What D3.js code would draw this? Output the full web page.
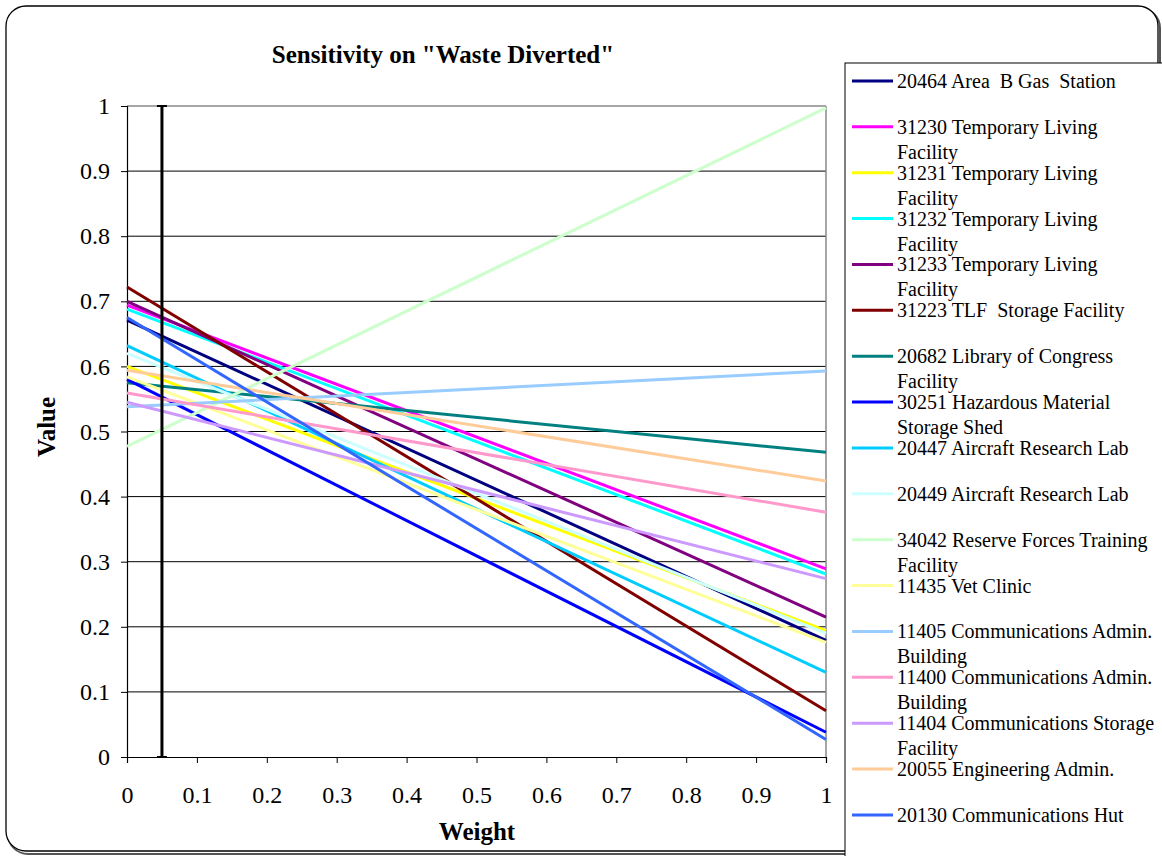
<!DOCTYPE html>
<html><head><meta charset="utf-8">
<script src="https://cdn.jsdelivr.net/npm/d3@7"></script>
<style>body{margin:0;background:#fff}svg{display:block}text{font-family:"Liberation Serif","Times New Roman",serif}</style>
</head><body>
<script>
const weights = [0, 1];
const seriesNames = [
  "20464 Area  B Gas  Station|",
  "31230 Temporary Living|Facility",
  "31231 Temporary Living|Facility",
  "31232 Temporary Living|Facility",
  "31233 Temporary Living|Facility",
  "31223 TLF  Storage Facility|",
  "20682 Library of Congress|Facility",
  "30251 Hazardous Material|Storage Shed",
  "20447 Aircraft Research Lab|",
  "20449 Aircraft Research Lab|",
  "34042 Reserve Forces Training|Facility",
  "11435 Vet Clinic|",
  "11405 Communications Admin.|Building",
  "11400 Communications Admin.|Building",
  "11404 Communications Storage|Facility",
  "20055 Engineering Admin.|",
  "20130 Communications Hut|"
];
const startValues = [0.671, 0.694, 0.600, 0.688, 0.700, 0.722, 0.575, 0.580, 0.632, 0.620, 0.477, 0.584, 0.538, 0.559, 0.545, 0.594, 0.675];
const endValues   = [0.179, 0.289, 0.194, 0.281, 0.215, 0.071, 0.468, 0.038, 0.130, 0.190, 0.997, 0.176, 0.593, 0.376, 0.274, 0.424, 0.027];
const colors = ["#000080","#FF00FF","#FFFF00","#00FFFF","#800080","#800000","#008080","#0000FF","#00CCFF","#CCFFFF","#CCFFCC","#FFFF99","#99CCFF","#FF99CC","#CC99FF","#FFCC99","#3366FF"];
const xTicks = [0,0.1,0.2,0.3,0.4,0.5,0.6,0.7,0.8,0.9,1];
const yTicks = [0,0.1,0.2,0.3,0.4,0.5,0.6,0.7,0.8,0.9,1];
const markerWeight = 0.05;
const title = 'Sensitivity on "Waste Diverted"';

const W = 1162, H = 856;
const svg = d3.select("body").append("svg").attr("width", W).attr("height", H);

// outer frame with shadow
svg.append("rect").attr("x", 8).attr("y", 8).attr("width", 1152).attr("height", 846).attr("rx", 20)
  .attr("fill", "none").attr("stroke", "#555").attr("stroke-width", 2);
svg.append("rect").attr("x", 6).attr("y", 6).attr("width", 1152).attr("height", 845).attr("rx", 20)
  .attr("fill", "#fff").attr("stroke", "#000").attr("stroke-width", 1.3);

const x = d3.scaleLinear().domain([0, 1]).range([127, 826]);
const y = d3.scaleLinear().domain([0, 1]).range([757, 106]);

// gridlines
svg.append("g").selectAll("line").data(yTicks.filter(d => d > 0 && d < 1)).join("line")
  .attr("x1", x(0)).attr("x2", x(1)).attr("y1", d => y(d)).attr("y2", d => y(d))
  .attr("stroke", "#000").attr("stroke-width", 1);
// plot border top & right (gray)
svg.append("line").attr("x1", x(0)).attr("x2", x(1)).attr("y1", y(1)).attr("y2", y(1)).attr("stroke", "#888").attr("stroke-width", 1.5);
svg.append("line").attr("x1", x(1)).attr("x2", x(1)).attr("y1", y(1)).attr("y2", y(0)).attr("stroke", "#888").attr("stroke-width", 1.5);

// axes
const yAxis = svg.append("g").attr("transform", `translate(${x(0)},0)`)
  .call(d3.axisLeft(y).tickValues(yTicks).tickFormat(d3.format("~g")).tickSize(6).tickPadding(11));
const xAxis = svg.append("g").attr("transform", `translate(0,${y(0)})`)
  .call(d3.axisBottom(x).tickValues(xTicks).tickFormat(d3.format("~g")).tickSize(6).tickPadding(23));
[yAxis, xAxis].forEach(g => {
  g.select(".domain").attr("stroke", "#000").attr("stroke-width", 1.2);
  g.selectAll(".tick line").attr("stroke", "#000");
  g.selectAll("text").attr("font-family", "Liberation Serif").attr("font-size", 24).attr("fill", "#000");
});

// series
const line = d3.line().x(d => x(d[0])).y(d => y(d[1]));
seriesNames.forEach((n, i) => {
  svg.append("path").datum([[weights[0], startValues[i]], [weights[1], endValues[i]]])
    .attr("d", line).attr("fill", "none").attr("stroke", colors[i]).attr("stroke-width", 3);
});

// marker vertical line at weight 0.05
const mx = x(markerWeight);
svg.append("line").attr("x1", mx).attr("x2", mx).attr("y1", y(1)).attr("y2", y(0)).attr("stroke", "#000").attr("stroke-width", 3);
[1, 0].forEach(v => svg.append("line").attr("x1", mx - 5).attr("x2", mx + 5).attr("y1", y(v)).attr("y2", y(v)).attr("stroke", "#000").attr("stroke-width", 2));

// titles
svg.append("text").attr("x", 443).attr("y", 63).attr("text-anchor", "middle").attr("font-weight", "bold").attr("font-size", 25).text(title);
svg.append("text").attr("x", 477).attr("y", 840).attr("text-anchor", "middle").attr("font-weight", "bold").attr("font-size", 25).text("Weight");
svg.append("text").attr("transform", "translate(55,427) rotate(-90)").attr("text-anchor", "middle").attr("font-weight", "bold").attr("font-size", 25).text("Value");

// legend
svg.append("rect").attr("x", 845).attr("y", 63).attr("width", 330).attr("height", 810).attr("fill", "#fff").attr("stroke", "#000").attr("stroke-width", 1);
const lg = svg.append("g");
seriesNames.forEach((n, i) => {
  const yy = 81 + i * 45.87;
  lg.append("line").attr("x1", 852).attr("x2", 893).attr("y1", yy).attr("y2", yy).attr("stroke", colors[i]).attr("stroke-width", 3);
  const parts = n.split("|");
  const t = lg.append("text").attr("font-size", 20).style("white-space", "pre");
  t.append("tspan").attr("x", 897).attr("y", yy + 7).text(parts[0]);
  if (parts[1]) t.append("tspan").attr("x", 897).attr("y", yy + 32).text(parts[1]);
});
</script>
</body></html>
